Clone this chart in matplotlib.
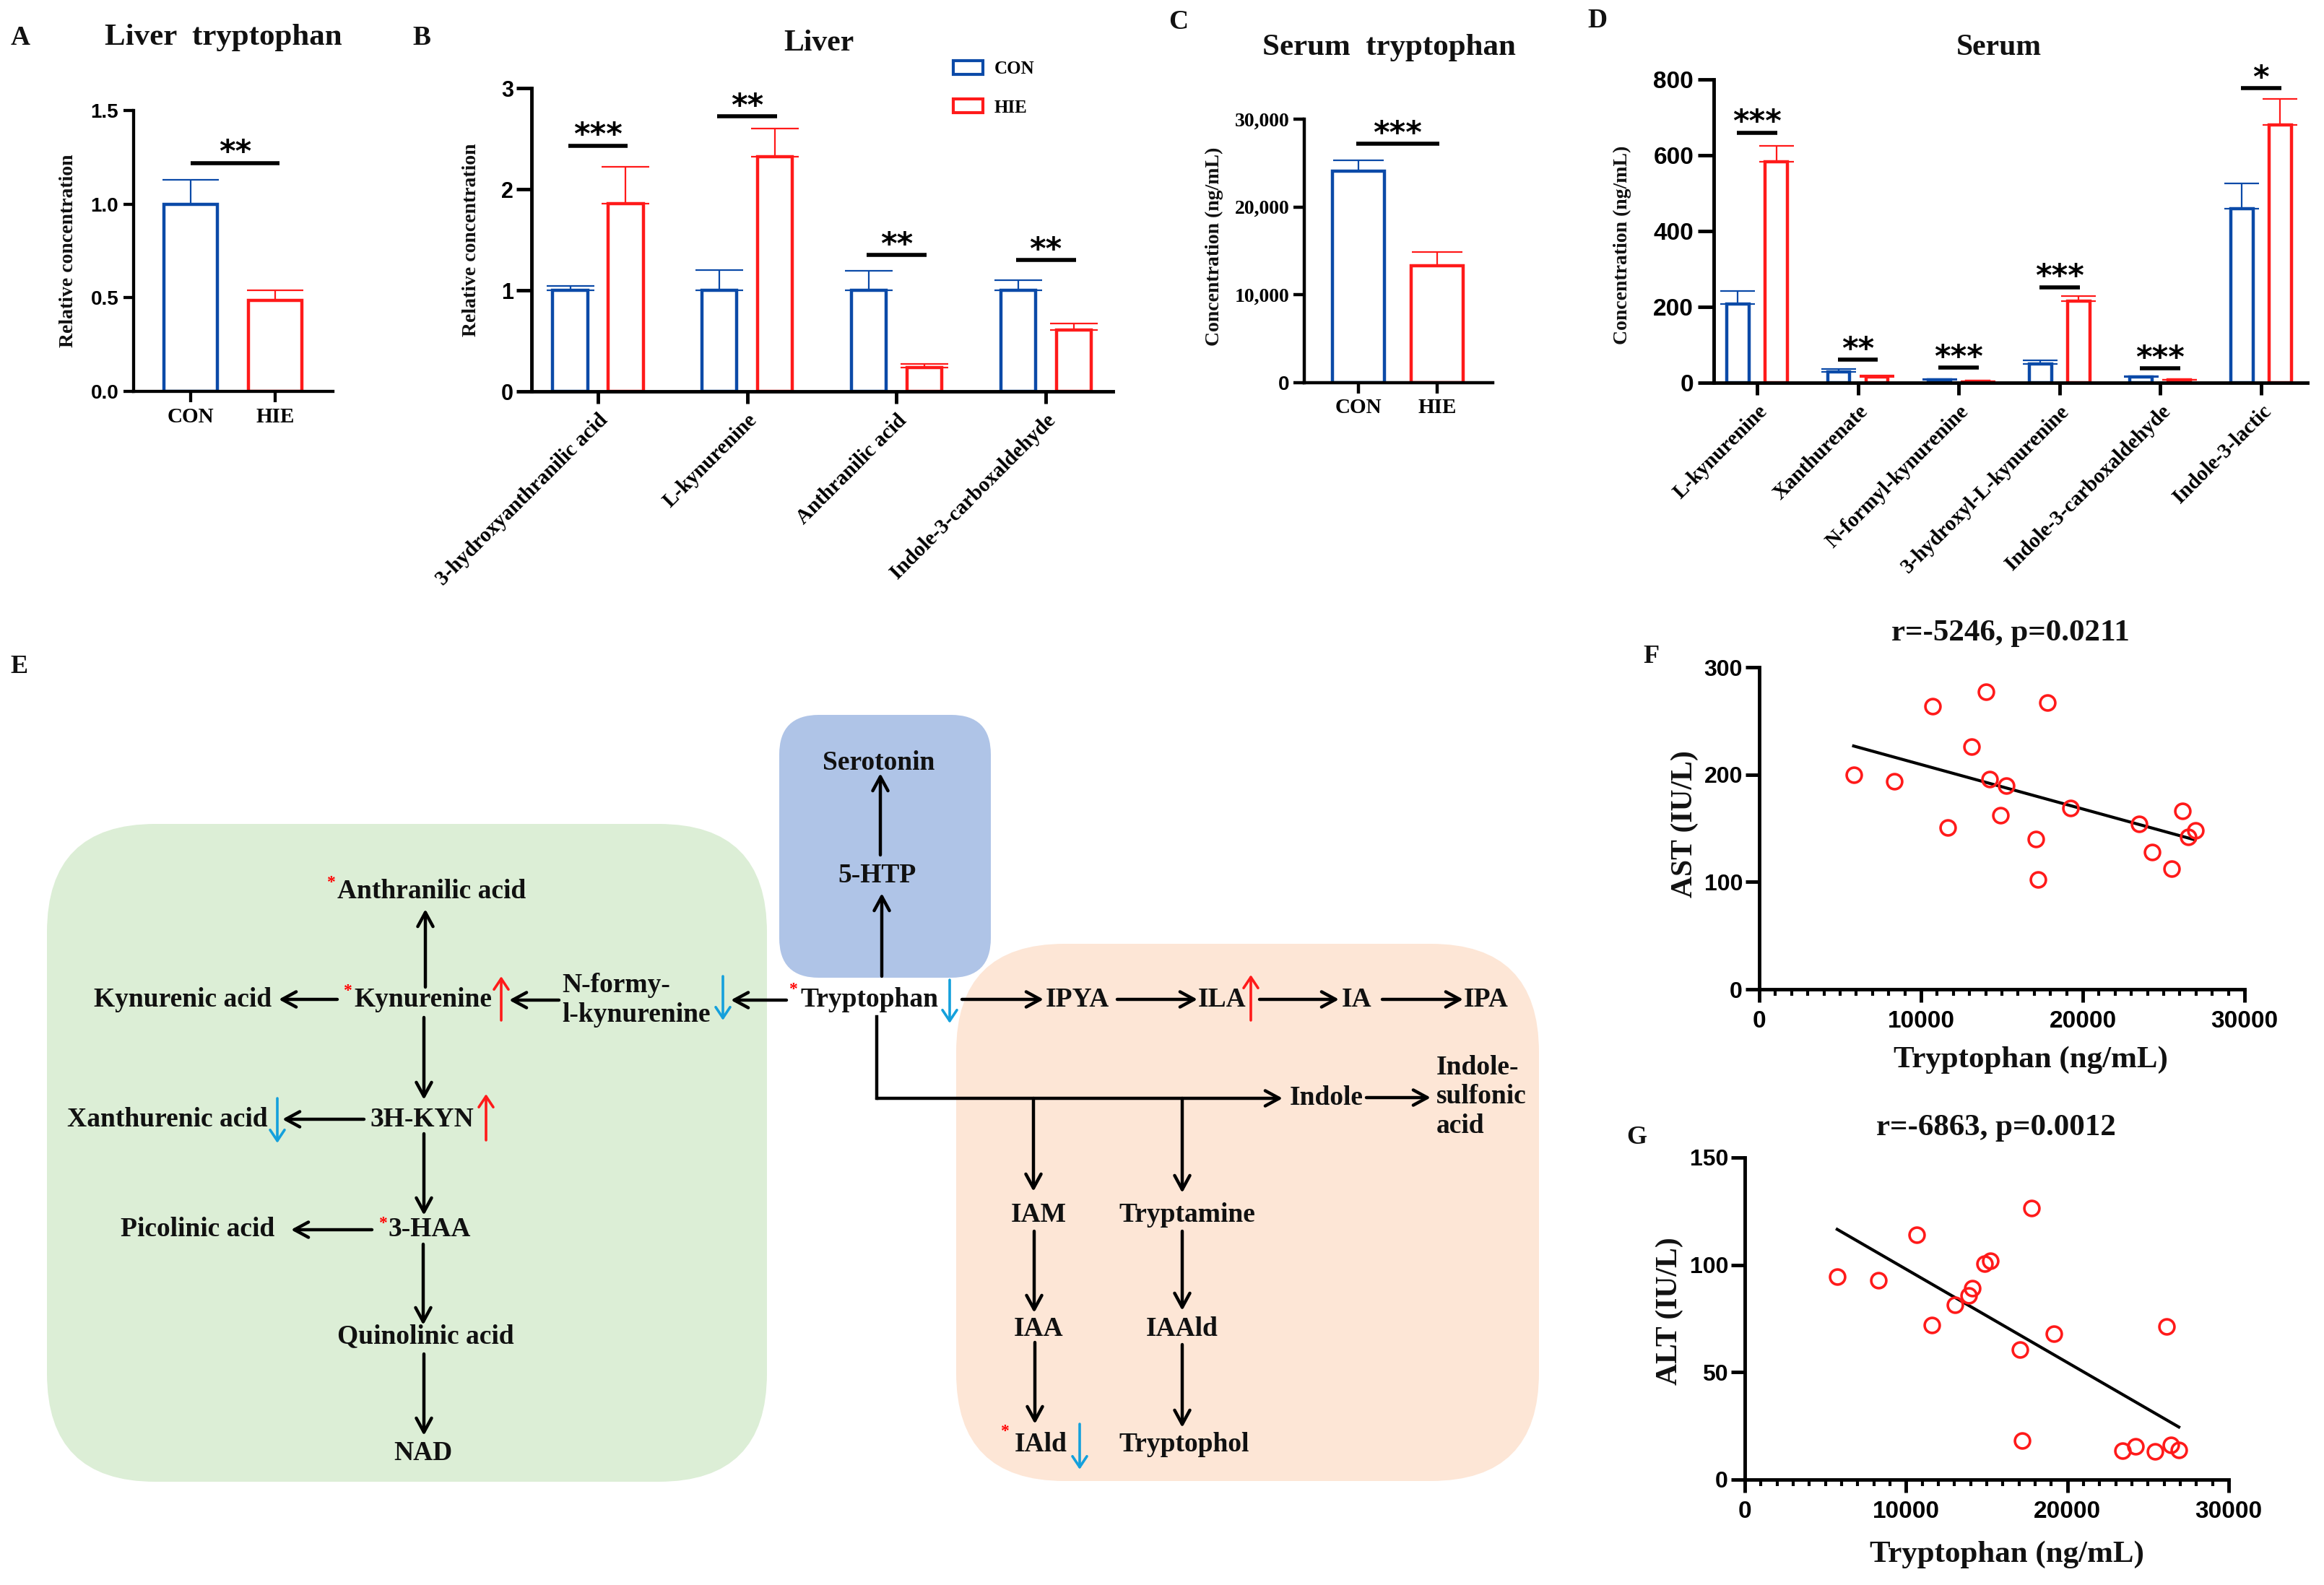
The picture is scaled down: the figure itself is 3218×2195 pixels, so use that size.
import matplotlib
matplotlib.use('Agg')
import matplotlib.pyplot as plt
import numpy as np
from matplotlib.patches import FancyBboxPatch, FancyArrowPatch, Patch
from matplotlib.ticker import MultipleLocator

## Данные
groups = ['CON', 'HIE']
liver_trp_mean = [1.0, 0.485]
liver_trp_err = [0.13, 0.055]

liver_names = ['3-hydroxyanthranilic acid', 'L-kynurenine', 'Anthranilic acid', 'Indole-3-carboxaldehyde']
liver_con = [1.0, 1.0, 1.0, 1.0]
liver_con_err = [0.045, 0.20, 0.195, 0.10]
liver_hie = [1.86, 2.32, 0.233, 0.61]
liver_hie_err = [0.36, 0.28, 0.04, 0.06]
liver_sig = ['***', '**', '**', '**']

serum_trp_mean = [24100, 13300]
serum_trp_err = [1250, 1600]

serum_names = ['L-kynurenine', 'Xanthurenate', 'N-formyl-kynurenine', '3-hydroxyl-L-kynurenine',
               'Indole-3-carboxaldehyde', 'Indole-3-lactic']
serum_con = [207, 28, 7, 50, 15, 459]
serum_con_err = [34, 8, 3, 10, 2, 67]
serum_hie = [582, 16, 3, 216, 7, 680]
serum_hie_err = [43, 3, 1, 12, 1, 68]
serum_sig = ['***', '**', '***', '***', '***', '*']

ast_trp = [5833, 8333, 10722, 11667, 13111, 14028, 14222, 14889, 15250, 17111,
           17250, 17833, 19222, 23500, 24306, 25472, 26167, 26500, 26944]
ast = [200, 194, 264, 151, 226, 277, 196, 162, 190, 140,
       102, 267, 169, 154, 128, 112, 166, 142, 148]
alt_trp = [5727, 8285, 10648, 11593, 13038, 13900, 14122, 14845, 15207, 17041,
           17180, 17764, 19154, 23408, 24242, 25437, 26132, 26410, 26910]
alt = [94.4, 92.8, 114, 72.1, 81.5, 85.6, 89.2, 100.7, 101.9, 60.4,
       18.1, 126.6, 68, 13.5, 15.4, 13.2, 71.2, 16, 13.9]

## Высоты линий значимости (разметка)
a_sig_y = 1.22
b_sig_y = [2.43, 2.72, 1.35, 1.30]
c_sig_y = 27200
d_sig_y = [660, 61, 40, 252, 38, 777]

W, H = 3218, 2195
BLUE = '#0B4AA8'
RED = '#FF1A1A'
CYAN = '#14A0DC'
SERIF = ['Liberation Serif', 'DejaVu Serif']
SANS = ['Liberation Sans', 'DejaVu Sans']

plt.rcParams['font.family'] = SERIF
plt.rcParams['font.weight'] = 'bold'

fig = plt.figure(figsize=(W / 100, H / 100), dpi=100)
bg = fig.add_axes([0, 0, 1, 1])
bg.set_xlim(0, W)
bg.set_ylim(H, 0)
bg.axis('off')


def rect(x0, y0, x1, y1):
    return [x0 / W, 1 - y1 / H, (x1 - x0) / W, (y1 - y0) / H]


def style(ax, lw, ticklen):
    for s in ['top', 'right']:
        ax.spines[s].set_visible(False)
    for s in ['left', 'bottom']:
        ax.spines[s].set_linewidth(lw)
    ax.tick_params(width=lw, length=ticklen, direction='out', colors='k')
    ax.set_facecolor('none')


def bars(ax, x, means, errs, width, color, capsize):
    ax.bar(x, means, width, color='white', edgecolor=color, linewidth=3.2, zorder=2)
    ax.errorbar(x, means, yerr=[np.zeros(len(means)), errs], fmt='none', ecolor=color,
                elinewidth=1.6, capsize=capsize, capthick=1.6, zorder=1.9)


def sig(ax, x0, x1, y, text, lw=4):
    ax.plot([x0, x1], [y, y], color='k', lw=lw, solid_capstyle='butt', clip_on=False, zorder=4)
    ax.annotate(text, ((x0 + x1) / 2, y), xytext=(0, 1), textcoords='offset points',
                ha='center', va='baseline', fontsize=31, family='DejaVu Sans',
                fontweight='bold', annotation_clip=False)


def label(x, y, s, size, rot=0, **kw):
    bg.text(x, y, s, fontsize=size, rotation=rot, ha='center', va='center',
            fontweight='bold', color='#111111', **kw)


## Панель A
ax = fig.add_axes(rect(185, 153, 461, 542))
style(ax, 3.1, 10)
x = np.arange(2)
for i in range(2):
    bars(ax, [x[i]], [liver_trp_mean[i]], [liver_trp_err[i]], 0.63, [BLUE, RED][i], 28)
ax.set_xlim(-0.675, 1.684)
ax.set_ylim(0, 1.5)
ax.set_yticks([0, 0.5, 1.0, 1.5])
ax.set_yticklabels(['0.0', '0.5', '1.0', '1.5'], family=SANS, fontsize=20, fontweight='bold')
ax.set_xticks(x)
ax.set_xticklabels(groups, fontsize=21)
ax.tick_params(axis='x', length=11, pad=5)
ax.tick_params(axis='y', pad=5)
sig(ax, 0, 1.05, a_sig_y, '**')
label(95, 347, 'Relative concentration', 20, 90)
label(28, 52, 'A', 27)
label(309, 52, 'Liver  tryptophan', 31)

## Панель B
ax = fig.add_axes(rect(736, 122, 1541, 542))
style(ax, 3.5, 15)
x = np.arange(len(liver_names))
bars(ax, x - 0.186, liver_con, liver_con_err, 0.233, BLUE, 24)
bars(ax, x + 0.186, liver_hie, liver_hie_err, 0.233, RED, 24)
ax.set_xlim(-0.445, 3.449)
ax.set_ylim(0, 3)
ax.set_yticks([0, 1, 2, 3])
ax.set_yticklabels(['0', '1', '2', '3'], family=SANS, fontsize=22, fontweight='bold')
ax.set_xticks(x)
ax.set_xticklabels(liver_names, rotation=45, ha='right', rotation_mode='anchor', fontsize=21)
ax.tick_params(axis='x', length=12, pad=7)
ax.tick_params(axis='y', pad=3)
for i in range(len(liver_names)):
    sig(ax, i - 0.2, i + 0.2, b_sig_y[i], liver_sig[i])
ax.legend(handles=[Patch(facecolor='white', edgecolor=BLUE, lw=3),
                   Patch(facecolor='white', edgecolor=RED, lw=3)],
          labels=groups, loc='upper left', bbox_to_anchor=(1320 / W, 1 - 84 / H),
          bbox_transform=fig.transFigure, frameon=False,
          prop=dict(family=SERIF, weight='bold', size=18),
          handlelength=1.65, handleheight=0.8, handletextpad=0.6, labelspacing=1.2,
          borderpad=0, borderaxespad=0)
label(653, 332, 'Relative concentration', 20, 90)
label(584, 53, 'B', 27)
label(1134, 60, 'Liver', 30)

## Панель C
ax = fig.add_axes(rect(1806, 165, 2067, 530))
style(ax, 3.2, 11)
x = np.arange(2)
for i in range(2):
    bars(ax, [x[i]], [serum_trp_mean[i]], [serum_trp_err[i]], 0.66, [BLUE, RED][i], 25)
ax.set_xlim(-0.688, 1.706)
ax.set_ylim(0, 30000)
ax.set_yticks([0, 10000, 20000, 30000])
ax.set_yticklabels(['0', '10,000', '20,000', '30,000'], fontsize=20)
ax.get_yticklabels()[0].set_family(SANS)
ax.set_xticks(x)
ax.set_xticklabels(groups, fontsize=21)
ax.tick_params(axis='x', length=11, pad=4)
ax.tick_params(axis='y', pad=4)
sig(ax, -0.03, 1.03, c_sig_y, '***')
label(1681, 341, 'Concentration (ng/mL)', 20, 90)
label(1632, 30, 'C', 27)
label(1923, 66, 'Serum  tryptophan', 31)

## Панель D
ax = fig.add_axes(rect(2373, 110, 3195, 530))
style(ax, 3.5, 16)
x = np.arange(len(serum_names))
bars(ax, x - 0.19, serum_con, serum_con_err, 0.22, BLUE, 17)
bars(ax, x + 0.19, serum_hie, serum_hie_err, 0.22, RED, 17)
ax.set_xlim(-0.43, 5.46)
ax.set_ylim(0, 800)
ax.set_yticks([0, 200, 400, 600, 800])
ax.set_yticklabels(['0', '200', '400', '600', '800'], family=SANS, fontsize=24, fontweight='bold')
ax.set_xticks(x)
ax.set_xticklabels(serum_names, rotation=45, ha='right', rotation_mode='anchor', fontsize=21)
ax.tick_params(axis='x', length=12, pad=7)
ax.tick_params(axis='y', pad=4)
for i in range(len(serum_names)):
    sig(ax, i - 0.2, i + 0.2, d_sig_y[i], serum_sig[i])
label(2246, 339, 'Concentration (ng/mL)', 20, 90)
label(2212, 29, 'D', 27)
label(2768, 66, 'Serum', 30)


## Панели F и G
def scatter_panel(box, xs, ys, ymax, ystep, title, ylab, tpos, ypos, xpos, letter, lpos):
    ax = fig.add_axes(rect(*box))
    style(ax, 3.5, 13)
    ax.plot(xs, ys, 'o', ms=15, mfc='none', mec=RED, mew=2.6, clip_on=False, zorder=3)
    coef = np.polyfit(xs, ys, 1)
    xl = np.array([min(xs), max(xs)])
    ax.plot(xl, np.polyval(coef, xl), color='k', lw=3, zorder=2)
    ax.set_xlim(0, 30000)
    ax.set_ylim(0, ymax)
    ax.set_xticks([0, 10000, 20000, 30000])
    ax.set_xticklabels(['0', '10000', '20000', '30000'], family=SANS, fontsize=24, fontweight='bold')
    yt = np.arange(0, ymax + 1, ystep)
    ax.set_yticks(yt)
    ax.set_yticklabels([str(int(v)) for v in yt], family=SANS, fontsize=23, fontweight='bold')
    ax.xaxis.set_minor_locator(MultipleLocator(1000))
    ax.tick_params(axis='x', which='major', length=13, pad=8)
    ax.tick_params(axis='x', which='minor', length=6.5, width=3)
    ax.tick_params(axis='y', length=13.5, pad=3)
    label(*tpos, title, 31)
    label(*ypos, ylab, 30, 90)
    label(*xpos, 'Tryptophan (ng/mL)', 31)
    label(*lpos, letter, 26)


scatter_panel((2436, 924, 3108, 1370), ast_trp, ast, 300, 100, 'r=-5246, p=0.0211', 'AST (IU/L)',
              (2784, 877), (2333, 1141), (2812, 1468), 'F', (2286, 909))
scatter_panel((2416, 1603, 3086, 2049), alt_trp, alt, 150, 50, 'r=-6863, p=0.0012', 'ALT (IU/L)',
              (2764, 1562), (2312, 1816), (2779, 2153), 'G', (2266, 1576))

## Панель E: схема метаболизма триптофана
label(27, 924, 'E', 26)
for (x0, y0, x1, y1, r, c) in [(65, 1141, 1062, 2052, 150, '#DCEED6'),
                               (1079, 990, 1372, 1354, 55, '#AFC4E7'),
                               (1324, 1307, 2131, 2051, 150, '#FDE6D6')]:
    bg.add_patch(FancyBboxPatch((x0, y0), x1 - x0, y1 - y0,
                                boxstyle='round,pad=0,rounding_size=%d' % r,
                                facecolor=c, edgecolor='none', zorder=0))

nodes = ['Anthranilic acid', 'Kynurenic acid', 'Kynurenine', 'Tryptophan', 'Serotonin', '5-HTP',
         'IPYA', 'ILA', 'IA', 'IPA', 'Indole', 'Xanthurenic acid', '3H-KYN', 'Picolinic acid',
         '3-HAA', 'Quinolinic acid', 'NAD', 'IAM', 'Tryptamine', 'IAA', 'IAAld', 'IAld', 'Tryptophol']
node_pos = [(598, 1235), (253, 1384), (586, 1384), (1204, 1384), (1217, 1056), (1215, 1213),
            (1492, 1384), (1692, 1384), (1879, 1384), (2058, 1384), (1837, 1520), (232, 1550),
            (584, 1550), (274, 1703), (595, 1703), (589, 1851), (586, 2012), (1438, 1682),
            (1644, 1682), (1438, 1841), (1637, 1841), (1441, 2000), (1640, 2000)]
for name, (px, py) in zip(nodes, node_pos):
    label(px, py, name, 27, zorder=3)
bg.text(778, 1385, 'N-formy-\nl-kynurenine', fontsize=27, ha='left', va='center',
        linespacing=1.2, fontweight='bold', color='#111111', zorder=3)
bg.text(1989, 1519, 'Indole-\nsulfonic\nacid', fontsize=27, ha='left', va='center',
        linespacing=1.2, fontweight='bold', color='#111111', zorder=3)

for px, py in [(458, 1223), (481, 1372), (1098, 1371), (530, 1694), (1391, 1983)]:
    bg.text(px, py, '*', color='red', fontsize=17, ha='center', va='center', zorder=4)

arrows = [((589, 1367), (589, 1259)), ((467, 1384), (386, 1384)), ((774, 1385), (705, 1385)),
          ((1089, 1385), (1012, 1385)), ((587, 1409), (587, 1523)), ((504, 1550), (391, 1550)),
          ((587, 1570), (587, 1683)), ((515, 1703), (403, 1703)), ((586, 1723), (586, 1835)),
          ((587, 1875), (587, 1988)), ((1221, 1352), (1221, 1237)), ((1219, 1184), (1219, 1071)),
          ((1332, 1384), (1445, 1384)), ((1547, 1384), (1658, 1384)), ((1744, 1384), (1854, 1384)),
          ((1914, 1384), (2026, 1384)), ((1214, 1521), (1776, 1521)), ((1892, 1520), (1981, 1520)),
          ((1431, 1521), (1431, 1650)), ((1637, 1521), (1637, 1652)), ((1432, 1705), (1432, 1818)),
          ((1637, 1705), (1637, 1815)), ((1433, 1859), (1433, 1972)), ((1637, 1862), (1637, 1977))]
for a, b in arrows:
    bg.add_patch(FancyArrowPatch(a, b, arrowstyle='->,head_length=0.7,head_width=0.38',
                                 mutation_scale=20, lw=3.2, color='k', shrinkA=0, shrinkB=0, zorder=2))
bg.plot([1214, 1214], [1408, 1521], color='k', lw=3.2, solid_capstyle='projecting', zorder=2)

updown = [(694, 1413, 1352, RED), (1001, 1352, 1413, CYAN), (384, 1521, 1583, CYAN),
          (673, 1579, 1515, RED), (1315, 1357, 1417, CYAN), (1732, 1413, 1350, RED),
          (1495, 1972, 2035, CYAN)]
for px, y0, y1, c in updown:
    bg.add_patch(FancyArrowPatch((px, y0), (px, y1), arrowstyle='->,head_length=0.6,head_width=0.4',
                                 mutation_scale=18, lw=2.6, color=c, shrinkA=0, shrinkB=0, zorder=3))

fig.savefig('out.png', dpi=100, facecolor='white')
